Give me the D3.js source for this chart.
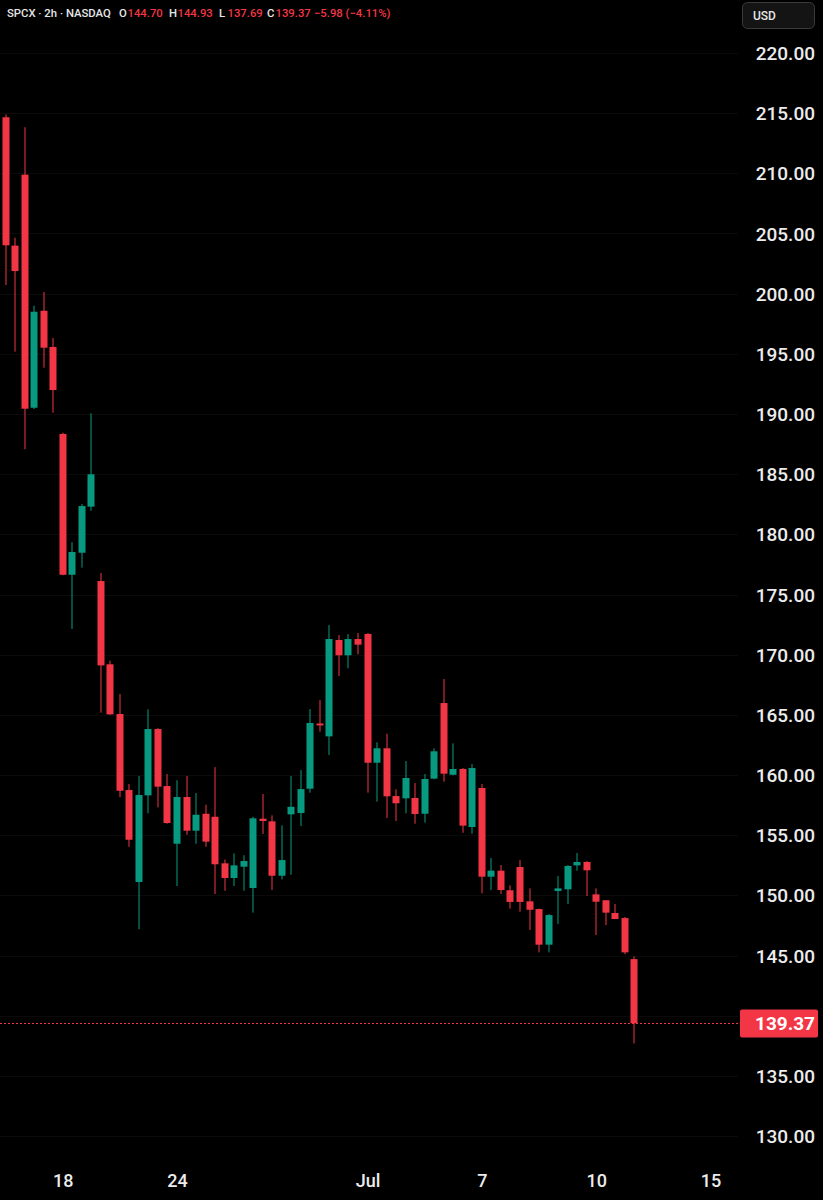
<!DOCTYPE html>
<html>
<head>
<meta charset="utf-8">
<script src="https://cdn.jsdelivr.net/npm/d3@7"></script>
<style>
  html, body { margin: 0; padding: 0; background: #000; }
  svg { display: block; }
</style>
</head>
<body>
<svg id="chart" width="823" height="1200"></svg>
<script>
// ---- Data (SPCX 2h candles) ----
const opens  = [214.66,203.99,209.89,190.52,198.58,195.57,188.34,176.64,178.47,182.30,
                176.12,169.20,165.07,158.75,151.11,158.31,163.82,159.08,154.29,158.17,
                155.37,156.78,156.53,152.66,151.44,152.38,150.61,156.37,156.15,151.63,
                156.73,156.84,158.86,164.28,163.21,171.22,169.95,171.30,171.72,161.02,
                162.22,158.25,158.06,158.09,156.78,159.70,165.98,160.02,160.50,155.68,
                158.92,151.55,152.05,150.42,152.35,149.50,148.86,145.90,150.36,150.50,
                152.49,152.77,150.08,149.59,148.53,148.11,144.70];
const highs  = [214.90,204.65,213.83,199.00,200.14,196.32,188.45,179.34,182.52,190.06,
                176.79,169.50,166.73,159.25,159.91,165.46,163.90,160.08,159.56,159.92,
                158.50,157.53,160.66,152.98,153.49,153.33,156.53,158.42,156.65,155.82,
                159.92,160.41,165.48,166.23,172.46,171.63,171.72,171.80,171.80,162.72,
                163.43,158.81,161.16,159.33,160.08,162.22,167.98,162.63,160.58,160.91,
                159.25,153.10,152.52,150.83,152.93,150.58,148.90,148.45,151.60,152.52,
                153.52,152.85,150.58,149.60,149.28,148.20,144.93];
const lows   = [200.72,195.18,187.07,190.41,193.85,190.11,176.60,172.13,177.23,181.96,
                165.18,165.00,158.15,154.04,147.18,156.82,157.31,155.95,150.77,155.04,
                154.29,154.04,150.11,150.38,150.77,150.38,148.56,155.10,150.44,151.33,
                151.71,155.76,158.53,163.60,161.66,168.23,168.87,170.03,158.53,157.78,
                156.43,156.18,156.82,155.95,156.04,159.65,159.44,159.98,155.20,155.12,
                150.17,150.44,150.11,148.89,148.64,147.12,145.26,145.26,147.62,149.28,
                152.05,149.94,146.70,147.53,148.03,145.10,137.69];
const closes = [204.02,201.88,190.44,198.50,195.51,191.99,176.64,178.53,182.35,184.99,
                169.11,165.04,158.69,154.62,158.34,163.82,159.03,156.01,158.17,155.37,
                156.70,154.46,152.58,151.44,152.49,152.85,156.40,156.18,151.63,152.93,
                157.36,158.83,164.32,164.12,171.30,169.95,171.30,170.83,161.02,162.22,
                158.23,157.65,159.75,156.76,159.67,161.97,160.11,160.50,155.79,160.58,
                151.55,152.05,150.44,149.45,149.45,148.80,145.90,148.36,150.58,152.44,
                152.77,152.08,149.47,148.56,148.03,145.26,139.37];

const priceTicks = [220,215,210,205,200,195,190,185,180,175,170,165,160,155,150,145,140,135,130];
const dateTickIndex = [6, 18, 38, 50, 62, 74];
const dateTickLabels = ["18", "24", "Jul", "7", "10", "15"];

const headerSymbol = "SPCX · 2h · NASDAQ";
const headerKeys = ["O", "H", "L", "C"];
const headerValues = ["144.70", "144.93", "137.69", "139.37"];
const headerChange = "−5.98 (−4.11%)";
const lastPrice = 139.37;

// ---- Layout ----
const UP = "#089981", DOWN = "#f23645";
const svg = d3.select("#chart");
svg.append("rect").attr("width", 823).attr("height", 1200).attr("fill", "#000");

const y = d3.scaleLinear().domain([130, 220]).range([1136, 53]);
const x = d3.scaleLinear().domain([0, 66]).range([5.5, 634.3]);

// grid
svg.append("g").selectAll("line").data(priceTicks).join("line")
  .attr("x1", 0).attr("x2", 738)
  .attr("y1", d => Math.round(y(d)) + 0.5).attr("y2", d => Math.round(y(d)) + 0.5)
  .attr("stroke", "#0b0b0b").attr("stroke-width", 1);

// candles
const data = opens.map((o, i) => ({i, o, h: highs[i], l: lows[i], c: closes[i]}));
const g = svg.append("g");
const bodyW = 7;
g.selectAll("rect.wick").data(data).join("rect").attr("class", "wick")
  .attr("x", d => Math.round(x(d.i)) - 0.5)
  .attr("width", 1)
  .attr("y", d => y(d.h))
  .attr("height", d => Math.max(1, y(d.l) - y(d.h)))
  .attr("fill", d => d.c >= d.o ? UP : DOWN);
g.selectAll("rect.body").data(data).join("rect").attr("class", "body")
  .attr("x", d => Math.round(x(d.i)) - bodyW / 2)
  .attr("width", bodyW)
  .attr("y", d => y(Math.max(d.o, d.c)))
  .attr("height", d => Math.max(1.5, Math.abs(y(d.o) - y(d.c))))
  .attr("fill", d => d.c >= d.o ? UP : DOWN);

// right price axis labels
const axisFont = "Roboto, 'Liberation Sans', sans-serif";
const yAxis = d3.axisRight(y).tickValues(priceTicks).tickFormat(d3.format(".2f")).tickSize(0).tickPadding(0);
const ya = svg.append("g").attr("transform", "translate(752,0)").call(yAxis);
ya.select(".domain").remove();
ya.selectAll("text").attr("fill", "#ececec").attr("font-family", axisFont)
  .attr("font-size", 19).attr("font-weight", 500).attr("text-anchor", "end").attr("x", 63).attr("dy", "0.35em");

// bottom date axis
const xAxis = d3.axisBottom(x).tickValues(dateTickIndex).tickFormat((d, k) => dateTickLabels[k]).tickSize(0).tickPadding(0);
const xa = svg.append("g").attr("transform", "translate(0,1181)").call(xAxis);
xa.select(".domain").remove();
xa.selectAll("text").attr("fill", "#ececec").attr("font-family", axisFont)
  .attr("font-size", 18).attr("font-weight", 500).attr("dy", "0.35em").attr("y", 0);

// last price line and label
const ly = Math.round(y(lastPrice)) + 0.5;
svg.append("line").attr("x1", 0).attr("x2", 738).attr("y1", ly).attr("y2", ly)
  .attr("stroke", DOWN).attr("stroke-width", 1).attr("stroke-dasharray", "2,2");
svg.append("rect").attr("x", 740).attr("y", ly - 14).attr("width", 78).attr("height", 28)
  .attr("rx", 2).attr("fill", DOWN);
svg.append("text").attr("x", 815).attr("y", ly).attr("dy", "0.35em").attr("text-anchor", "end")
  .attr("fill", "#fff").attr("font-family", axisFont).attr("font-size", 19).attr("font-weight", 700)
  .text(d3.format(".2f")(lastPrice));

// USD box
svg.append("rect").attr("x", 742.5).attr("y", 2.5).attr("width", 72).attr("height", 26)
  .attr("rx", 5).attr("fill", "#141414").attr("stroke", "#3a3a3a");
svg.append("text").attr("x", 753).attr("y", 16).attr("dy", "0.35em").attr("fill", "#e6e6e6")
  .attr("font-family", axisFont).attr("font-size", 12).attr("font-weight", 500).text("USD");

// header
const hf = {family: axisFont, size: 11.3, weight: 500};
function htext(xp, txt, fill) {
  svg.append("text").attr("x", xp).attr("y", 13).attr("dy", "0.35em")
    .attr("font-family", hf.family).attr("font-size", hf.size).attr("font-weight", hf.weight)
    .attr("fill", fill).text(txt);
}
htext(7, headerSymbol, "#e6e6e6");
const keyX = [119, 169, 219, 267];
headerKeys.forEach((k, i) => {
  htext(keyX[i], k, "#e6e6e6");
  htext(keyX[i] + 8.5, headerValues[i], DOWN);
});
htext(314, headerChange, DOWN);
</script>
</body>
</html>
